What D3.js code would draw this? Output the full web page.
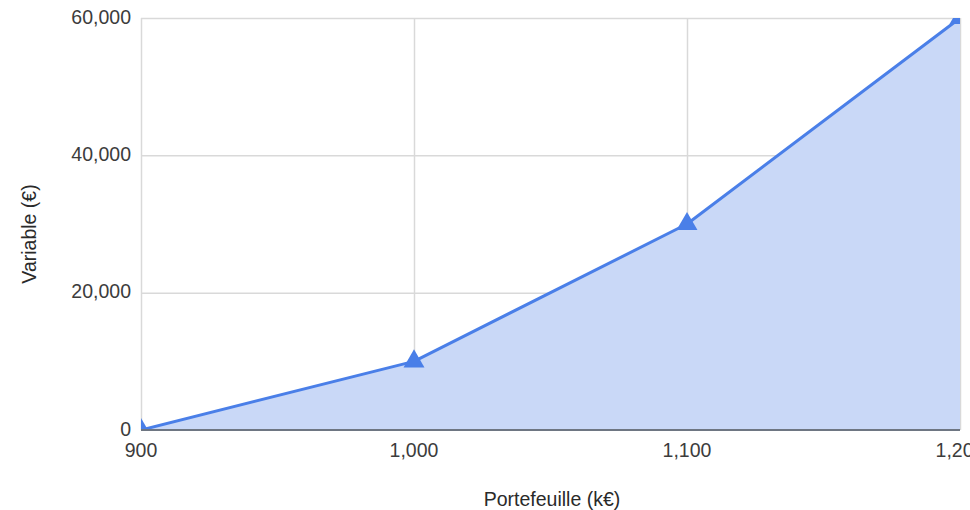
<!DOCTYPE html>
<html>
<head>
<meta charset="utf-8">
<script src="https://cdn.jsdelivr.net/npm/d3@7"></script>
<style>
  html, body { margin: 0; padding: 0; background: #fff; }
  svg { display: block; font-family: "Liberation Sans", Arial, Helvetica, sans-serif; }
</style>
</head>
<body>
<svg id="chart" width="970" height="510"></svg>
<script>
// Portfolio size (k€) vs variable pay (€)
const portfolio = [900, 1000, 1100, 1200];
const variablePay = [0, 10000, 30000, 60000];
const xTicks = [900, 1000, 1100, 1200];
const yTicks = [0, 20000, 40000, 60000];
const xTitle = "Portefeuille (k€)";
const yTitle = "Variable (€)";

const data = portfolio.map((p, i) => ({ x: p, y: variablePay[i] }));

const svg = d3.select("#chart");
const margin = { left: 141, top: 18, right: 10, bottom: 80 };
const W = 970, H = 510;
const plotW = W - margin.left - margin.right;
const plotH = H - margin.top - margin.bottom;

const x = d3.scaleLinear().domain([900, 1200]).range([0, plotW]);
const y = d3.scaleLinear().domain([0, 60000]).range([plotH, 0]);
const fmt = d3.format(",");
const fontSize = 19.5;

const g = svg.append("g").attr("transform", `translate(${margin.left},${margin.top})`);

svg.append("defs").append("clipPath").attr("id", "plotClip")
  .append("rect").attr("x", 0).attr("y", 0).attr("width", plotW).attr("height", plotH);

// Grid
const grid = g.append("g");
grid.selectAll("line.h").data(yTicks.filter(d => d > 0)).join("line")
  .attr("x1", 0).attr("x2", plotW)
  .attr("y1", d => y(d) + 0.5).attr("y2", d => y(d) + 0.5)
  .attr("stroke", "#d9d9d9").attr("stroke-width", 1.5);
grid.selectAll("line.v").data(xTicks).join("line")
  .attr("y1", 0).attr("y2", plotH)
  .attr("x1", d => x(d) + 0.5).attr("x2", d => x(d) + 0.5)
  .attr("stroke", "#d9d9d9").attr("stroke-width", 1.5);

// Area + line
const plot = g.append("g").attr("clip-path", "url(#plotClip)");
plot.append("path").datum(data)
  .attr("d", d3.area().x(d => x(d.x)).y0(y(0)).y1(d => y(d.y)))
  .attr("fill", "#c9d8f7");
plot.append("path").datum(data)
  .attr("d", d3.line().x(d => x(d.x)).y(d => y(d.y)))
  .attr("fill", "none").attr("stroke", "#4a7fe8").attr("stroke-width", 3)
  .attr("stroke-linejoin", "round");
plot.selectAll("path.marker").data(data).join("path")
  .attr("transform", d => `translate(${x(d.x)},${y(d.y)})`)
  .attr("d", d3.symbol(d3.symbolTriangle, 190))
  .attr("fill", "#4a7fe8");

// Baseline
g.append("line").attr("x1", 0).attr("x2", plotW)
  .attr("y1", plotH).attr("y2", plotH)
  .attr("stroke", "#6e7682").attr("stroke-width", 2);

// Tick labels
g.selectAll("text.yt").data(yTicks).join("text")
  .attr("x", -10).attr("y", d => y(d) - 1).attr("dy", "0.35em")
  .attr("text-anchor", "end").attr("font-size", fontSize).attr("fill", "#3c3c3c")
  .text(d => fmt(d));
g.selectAll("text.xt").data(xTicks).join("text")
  .attr("x", d => x(d)).attr("y", plotH + 20).attr("dy", "0.35em")
  .attr("text-anchor", "middle").attr("font-size", fontSize).attr("fill", "#3c3c3c")
  .text(d => fmt(d));

// Axis titles
svg.append("text").attr("x", 552).attr("y", 499).attr("dy", "0.35em")
  .attr("text-anchor", "middle").attr("font-size", fontSize).attr("fill", "#2a2a2a")
  .text(xTitle);
svg.append("text").attr("transform", "translate(29,234) rotate(-90)").attr("dy", "0.35em")
  .attr("text-anchor", "middle").attr("font-size", fontSize).attr("fill", "#2a2a2a")
  .text(yTitle);
</script>
</body>
</html>
